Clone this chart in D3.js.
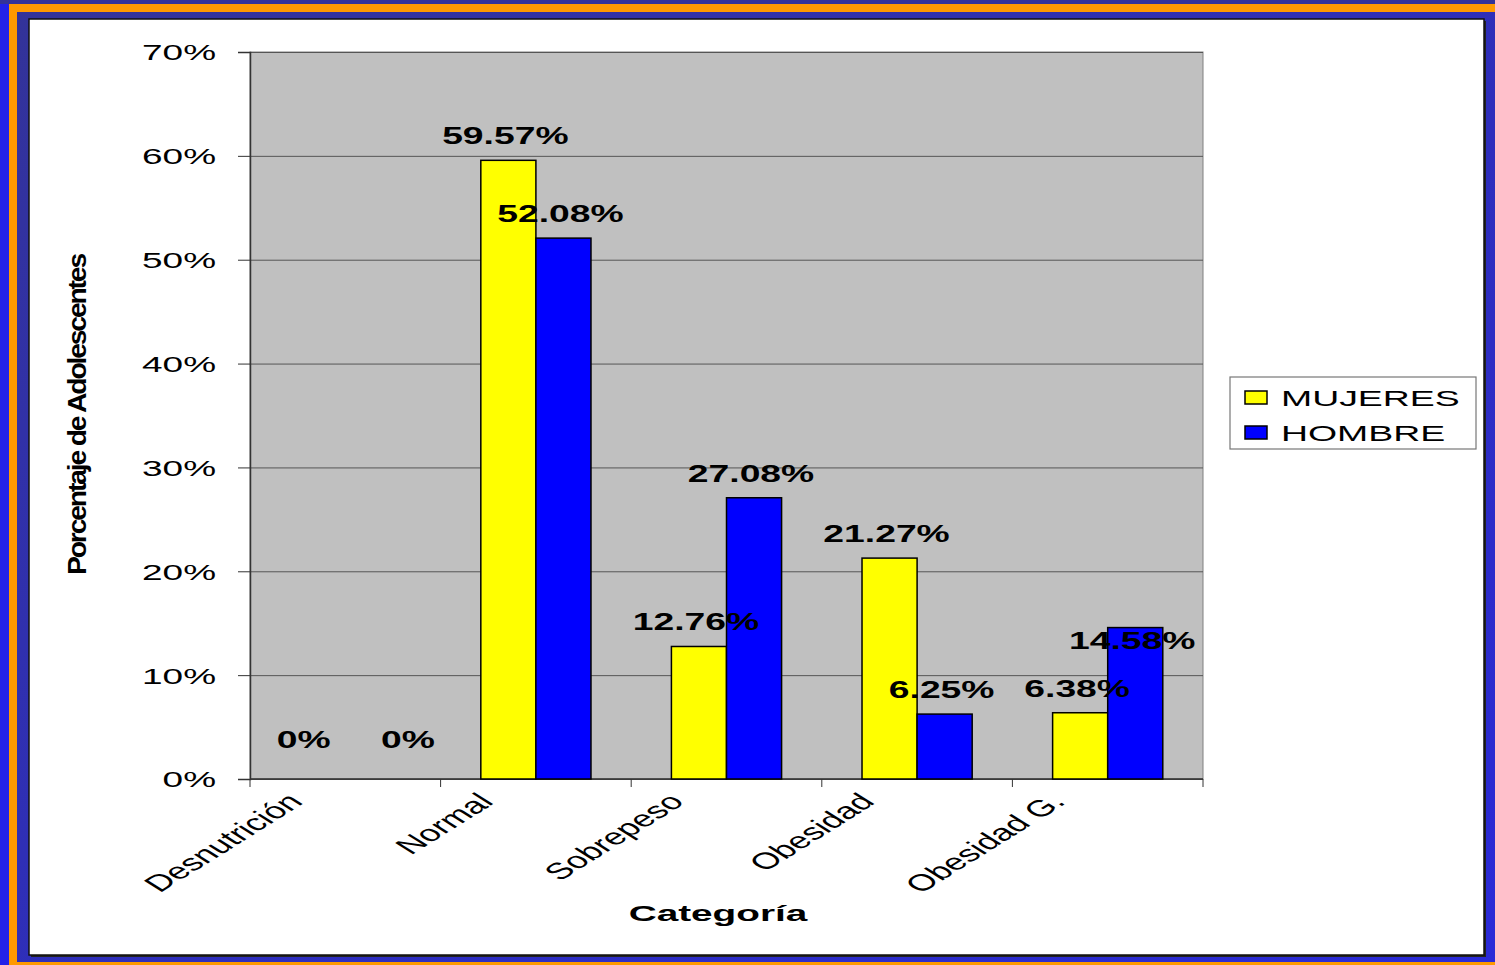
<!DOCTYPE html>
<html lang="es">
<head>
<meta charset="UTF-8">
<title>Categoría por sexo</title>
<style>
    body { margin: 0; padding: 0; background: #333399; }
    svg { display: block; }
    text { font-family: Arial, 'Liberation Sans', sans-serif; fill: #000; }
</style>
</head>
<body>
<svg id="chart" width="1495" height="965"></svg>
<script src="https://d3js.org/d3.v7.min.js"></script>
<script>
    // data
    const categories = ["Desnutrición", "Normal", "Sobrepeso", "Obesidad", "Obesidad G."];
    const series = ["MUJERES", "HOMBRE"];
    const mujeres = [0, 59.57, 12.76, 21.27, 6.38];
    const hombre = [0, 52.08, 27.08, 6.25, 14.58];
    const valueLabels = [
        ["0%", "59.57%", "12.76%", "21.27%", "6.38%"],
        ["0%", "52.08%", "27.08%", "6.25%", "14.58%"]
    ];
    const yTicks = [0, 10, 20, 30, 40, 50, 60, 70];
    const colors = ["#ffff00", "#0000ff"];

    const W = 1495, H = 965;
    const svg = d3.select("#chart");

    // stretch text horizontally, the picture is wider than the chart was drawn
    function stretch(sel, k) {
        sel.each(function () {
            const w = this.getComputedTextLength();
            d3.select(this).attr("textLength", w * k).attr("lengthAdjust", "spacingAndGlyphs");
        });
    }

    // frame
    const defs = svg.append("defs");
    const grad = defs.append("linearGradient").attr("id", "frameBlue")
        .attr("x1", 0).attr("y1", 0).attr("x2", 1).attr("y2", 1);
    grad.append("stop").attr("offset", "0%").attr("stop-color", "#333399");
    grad.append("stop").attr("offset", "100%").attr("stop-color", "#2a2ad8");

    svg.append("rect").attr("width", W).attr("height", H).attr("fill", "#2222e8");
    svg.append("rect").attr("width", W).attr("height", 4).attr("fill", "#333399");
    svg.append("rect").attr("x", 9).attr("y", 4).attr("width", W).attr("height", 961).attr("fill", "#ff9900");
    svg.append("rect").attr("x", 17).attr("y", 12).attr("width", W).attr("height", 950).attr("fill", "url(#frameBlue)");
    svg.append("rect").attr("x", 31).attr("y", 21).attr("width", 1455).attr("height", 936).attr("fill", "#222");
    svg.append("rect").attr("x", 29).attr("y", 19).attr("width", 1455).attr("height", 936)
        .attr("fill", "#fff").attr("stroke", "#111").attr("stroke-width", 1.5);

    // plot area
    const pLeft = 250, pRight = 1203, pTop = 52, pBottom = 779;

    const x = d3.scaleBand().domain(categories).range([pLeft, pRight]).padding(0);
    const xs = d3.scaleBand().domain(series).range([0, x.bandwidth()]).paddingInner(0).paddingOuter(0.73);
    const y = d3.scaleLinear().domain([0, 70]).range([pBottom, pTop]);

    svg.append("rect").attr("x", pLeft).attr("y", pTop)
        .attr("width", pRight - pLeft).attr("height", pBottom - pTop)
        .attr("fill", "#c0c0c0").attr("stroke", "#808080");

    // gridlines
    svg.append("g").attr("transform", `translate(${pLeft},0)`)
        .call(d3.axisLeft(y).tickValues(yTicks).tickSize(-(pRight - pLeft)).tickFormat(""))
        .call(g => g.select(".domain").remove())
        .call(g => g.selectAll("line").attr("stroke", "#555").attr("stroke-width", 1));

    // y axis
    const yAxis = svg.append("g").attr("transform", `translate(${pLeft},0)`)
        .call(d3.axisLeft(y).tickValues(yTicks).tickSize(12).tickPadding(22).tickFormat(d => d + "%"));
    yAxis.select(".domain").attr("stroke", "#333").attr("stroke-width", 1.5);
    yAxis.selectAll("line").attr("stroke", "#333");
    yAxis.selectAll("text").attr("font-size", 22).attr("font-family", "Arial, 'Liberation Sans', sans-serif")
        .attr("fill", "#000").attr("dy", "0.36em").call(stretch, 1.68);

    // x axis line and ticks at band edges
    svg.append("line").attr("x1", pLeft).attr("x2", pRight).attr("y1", pBottom).attr("y2", pBottom)
        .attr("stroke", "#333").attr("stroke-width", 1.5);
    const edges = categories.map(c => x(c)).concat([x(categories[categories.length - 1]) + x.bandwidth()]);
    svg.append("g").selectAll("line").data(edges).join("line")
        .attr("x1", d => d).attr("x2", d => d).attr("y1", pBottom).attr("y2", pBottom + 8)
        .attr("stroke", "#333");

    // bars
    const seriesValues = [mujeres, hombre];
    seriesValues.forEach((vals, si) => {
        svg.append("g").selectAll("rect").data(vals).join("rect")
            .attr("x", (d, i) => x(categories[i]) + xs(series[si]))
            .attr("y", d => y(d))
            .attr("width", xs.bandwidth())
            .attr("height", d => pBottom - y(d))
            .attr("fill", colors[si])
            .attr("stroke", d => d > 0 ? "#000" : "none")
            .attr("stroke-width", 1.5);
    });

    // value labels; a few were moved by hand in the original
    const nudge = {
        "0-0": [-11, -15], "1-0": [38, -15], "1-4": [0, 37]
    };
    seriesValues.forEach((vals, si) => {
        svg.append("g").selectAll("text").data(vals).join("text")
            .attr("x", (d, i) => x(categories[i]) + xs(series[si]) + xs.bandwidth() / 2 - 3 + (nudge[si + "-" + i] || [0, 0])[0])
            .attr("y", (d, i) => y(d) - 16 + (nudge[si + "-" + i] || [0, 0])[1])
            .attr("text-anchor", "middle")
            .attr("font-size", 23)
            .attr("font-weight", "bold")
            .text((d, i) => valueLabels[si][i])
            .call(stretch, 1.62);
    });

    // category labels, slanted
    svg.append("g").selectAll("text").data(categories).join("text")
        .attr("transform", d => `translate(${x(d) + x.bandwidth() / 2 - 41},${pBottom + 24}) scale(1.6,1) rotate(-45)`)
        .attr("text-anchor", "end")
        .attr("font-size", 23)
        .text(d => d);

    // axis titles
    svg.append("text")
        .attr("x", 718).attr("y", 921)
        .attr("text-anchor", "middle")
        .attr("font-size", 22).attr("font-weight", "bold")
        .text("Categoría")
        .call(stretch, 1.76);

    svg.append("text")
        .attr("transform", "translate(86,415) rotate(-90)")
        .attr("text-anchor", "middle")
        .attr("font-size", 26).attr("font-weight", "bold")
        .attr("letter-spacing", -2)
        .attr("textLength", 320).attr("lengthAdjust", "spacingAndGlyphs")
        .text("Porcentaje de Adolescentes");

    // legend
    const legend = svg.append("g").attr("transform", "translate(1230,377)");
    legend.append("rect").attr("width", 246).attr("height", 72)
        .attr("fill", "#fff").attr("stroke", "#777").attr("stroke-width", 1.2);
    const li = legend.selectAll("g").data(series).join("g")
        .attr("transform", (d, i) => `translate(0,${14 + i * 35})`);
    li.append("rect").attr("x", 15).attr("width", 22).attr("height", 13)
        .attr("fill", (d, i) => colors[i]).attr("stroke", "#000").attr("stroke-width", 1.5);
    li.append("text").attr("x", 51).attr("y", 15)
        .attr("font-size", 22)
        .text(d => d)
        .call(stretch, 1.7);
</script>
</body>
</html>
